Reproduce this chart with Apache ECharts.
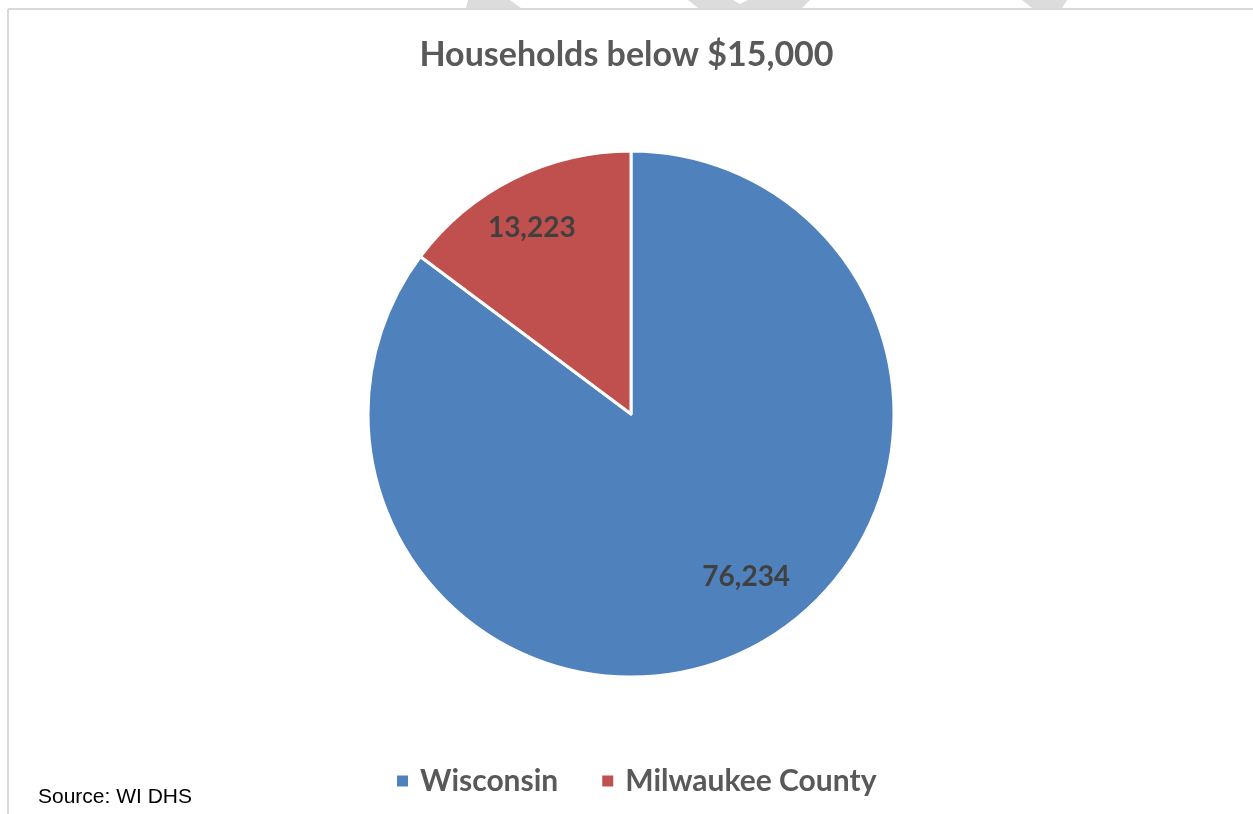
<!DOCTYPE html>
<html>
<head>
<meta charset="utf-8">
<script src="https://cdn.jsdelivr.net/npm/echarts@6/dist/echarts.min.js"></script>
<style>
  html, body { margin: 0; padding: 0; background: #ffffff; }
  #chart { width: 1253px; height: 814px; }
</style>
</head>
<body>
<div id="chart"></div>
<script>
// Households with income below $15,000
const chartTitle = 'Households below $15,000';
const categories = ['Wisconsin', 'Milwaukee County'];
const households = [76234, 13223];
const sliceColors = ['#4f81bd', '#c0504d'];
const sourceNote = 'Source: WI DHS';

// label nudges away from the slice midpoint (pixels)
const labelShift = [[55, 43], [-39, -66]];

const chart = echarts.init(document.getElementById('chart'), null, { renderer: 'canvas' });

const pieData = categories.map((name, i) => ({
  name: name,
  value: households[i],
  itemStyle: { color: sliceColors[i] }
}));

const frameColor = '#d9d9d9';
const markColor = '#dcdcdc';

chart.setOption({
  animation: false,
  backgroundColor: '#ffffff',
  title: {
    text: chartTitle,
    left: 'center',
    top: 33,
    textStyle: {
      fontFamily: 'Lato',
      fontWeight: 'bold',
      fontSize: 34,
      color: '#595959'
    }
  },
  legend: {
    data: categories,
    left: 390,
    top: 761,
    icon: 'rect',
    itemWidth: 13,
    itemHeight: 13,
    itemGap: 42,
    textStyle: {
      fontFamily: 'Lato',
      fontWeight: 'bold',
      fontSize: 30,
      color: '#595959',
      padding: [0, 0, 0, 6]
    }
  },
  series: [{
    type: 'pie',
    center: [631, 414],
    radius: [0, 263],
    startAngle: 90,
    clockwise: true,
    avoidLabelOverlap: false,
    itemStyle: { borderColor: '#ffffff', borderWidth: 3 },
    label: {
      show: true,
      position: 'inside',
      formatter: p => p.value.toLocaleString('en-US'),
      fontFamily: 'Lato',
      fontWeight: 'bold',
      fontSize: 28,
      color: '#404040'
    },
    labelLine: { show: false },
    labelLayout: p => ({ dx: labelShift[p.dataIndex][0], dy: labelShift[p.dataIndex][1] }),
    emphasis: { disabled: true },
    data: pieData
  }],
  graphic: [
    // chart frame (top and left edges)
    { type: 'line', shape: { x1: 8, y1: 9, x2: 1253, y2: 9 }, style: { stroke: frameColor, lineWidth: 2 } },
    { type: 'line', shape: { x1: 8, y1: 9, x2: 8, y2: 814 }, style: { stroke: frameColor, lineWidth: 2 } },
    // faint marks above the frame
    { type: 'polygon', shape: { points: [[468, 0], [510, 0], [521, 8], [466, 8]] }, style: { fill: markColor } },
    { type: 'polygon', shape: { points: [[688, 0], [733, 0], [740, 4], [748, 0], [810, 0], [802, 8], [698, 8]] }, style: { fill: markColor } },
    { type: 'polygon', shape: { points: [[1022, 0], [1067, 0], [1062, 8], [1032, 8]] }, style: { fill: markColor } },
    // source note
    {
      type: 'text',
      left: 38,
      top: 787,
      style: {
        text: sourceNote,
        font: '21px "Liberation Sans", Arial, sans-serif',
        fill: '#000000'
      }
    }
  ]
});
</script>
</body>
</html>
